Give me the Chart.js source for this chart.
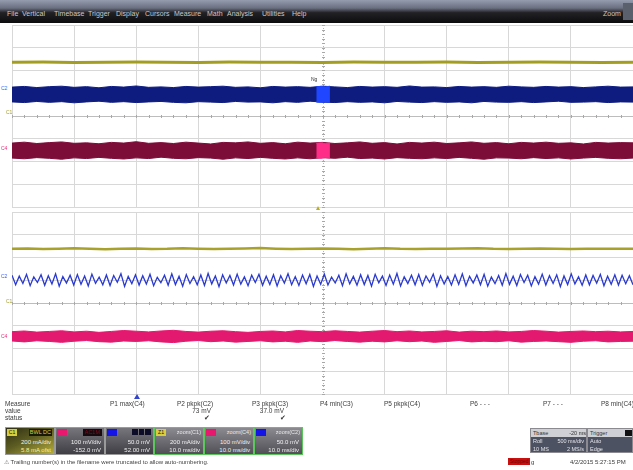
<!DOCTYPE html>
<html><head><meta charset="utf-8">
<script src="https://cdn.jsdelivr.net/npm/chart.js@4/dist/chart.umd.min.js"></script>
<style>
html,body{margin:0;padding:0;}
body{width:633px;height:470px;overflow:hidden;background:#fff;position:relative;font-family:"Liberation Sans",Arial,sans-serif;}
#menu{position:absolute;left:0;top:0;width:633px;height:23px;background:linear-gradient(to bottom,#959cae 0%,#6a7080 35%,#222226 55%,#0c0c0e 100%);}
#menu span{position:absolute;top:10px;font-size:7px;line-height:8px;color:#c8c8cc;white-space:nowrap;}
canvas{position:absolute;}
.t{position:absolute;white-space:nowrap;font-size:6.5px;line-height:7px;color:#3a3a3a;}
.mk{position:absolute;font-size:5px;line-height:5px;white-space:nowrap;}
.box{position:absolute;top:427px;height:28px;box-sizing:border-box;overflow:hidden;border:1px solid #9a9a9a;background:linear-gradient(to bottom,#76767c,#3e3e44);}
.box.z{border:1.5px solid #5cc85c;background:linear-gradient(to bottom,#8a8a90,#505056);}
.box .tag{position:absolute;left:1px;top:1px;width:10px;height:7px;font-size:5px;line-height:7px;text-align:center;color:#111;}
.box .lb{position:absolute;right:2px;top:1px;font-size:5.5px;line-height:7px;color:#e8e8e8;white-space:nowrap;}
.box .l2{position:absolute;right:3px;top:11px;font-size:6px;line-height:7px;color:#f0f0f0;white-space:nowrap;}
.box .l3{position:absolute;right:3px;top:19px;font-size:6px;line-height:7px;color:#f0f0f0;white-space:nowrap;}
.rb{position:absolute;box-sizing:border-box;overflow:hidden;}
.rb div{position:absolute;height:8px;font-size:5.5px;line-height:8px;white-space:nowrap;}
</style></head>
<body>
<div id="menu">
<span style="left:7px">File</span><span style="left:22px">Vertical</span><span style="left:54px">Timebase</span><span style="left:88px">Trigger</span><span style="left:116px">Display</span><span style="left:145px">Cursors</span><span style="left:174px">Measure</span><span style="left:207px">Math</span><span style="left:227px">Analysis</span><span style="left:262px">Utilities</span><span style="left:292px">Help</span>
<span style="left:603px">Zoom</span>
<div style="position:absolute;left:623px;top:3px;width:10px;height:17px;background:#5a606c;"></div>
</div>

<canvas id="upper" width="623" height="184" style="left:11px;top:24px"></canvas>
<canvas id="lower" width="623" height="184" style="left:11px;top:211px"></canvas>

<!-- channel offset markers -->
<div class="mk" style="left:1px;top:86px;color:#3a5cff">C2</div>
<div class="mk" style="left:6px;top:110px;color:#a8a030">C1</div>
<div class="mk" style="left:1px;top:146px;color:#e0307a">C4</div>
<div class="mk" style="left:1px;top:274px;color:#3a5cff">C2</div>
<div class="mk" style="left:6px;top:299px;color:#a8a030">C1</div>
<div class="mk" style="left:1px;top:334px;color:#e0307a">C4</div>
<div class="mk" style="left:311px;top:77px;color:#333;font-size:5px">Ng</div>
<!-- trigger markers -->
<div style="position:absolute;left:316px;top:206px;width:0;height:0;border-left:2.5px solid transparent;border-right:2.5px solid transparent;border-bottom:4px solid #b8b020;"></div>
<div style="position:absolute;left:134px;top:394px;width:0;height:0;border-left:3px solid transparent;border-right:3px solid transparent;border-bottom:5px solid #3344cc;"></div>

<!-- measure table -->
<div class="t" style="left:5px;top:400px">Measure</div>
<div class="t" style="left:5px;top:407px">value</div>
<div class="t" style="left:5px;top:414px">status</div>
<div class="t" style="left:110px;top:400px">P1 max(C4)</div>
<div class="t" style="left:177px;top:400px">P2 pkpk(C2)</div>
<div class="t" style="left:252px;top:400px">P3 pkpk(C3)</div>
<div class="t" style="left:320px;top:400px">P4 min(C3)</div>
<div class="t" style="left:384px;top:400px">P5 pkpk(C4)</div>
<div class="t" style="left:470px;top:400px">P6 - - -</div>
<div class="t" style="left:543px;top:400px">P7 - - -</div>
<div class="t" style="left:601px;top:400px">P8 min(C4)</div>
<div class="t" style="left:190px;top:407px;width:21px;text-align:right">73 mV</div>
<div class="t" style="left:258px;top:407px;width:26px;text-align:right">37.0 mV</div>
<div class="t" style="left:204px;top:414px;font-size:7px">✔</div>
<div class="t" style="left:280px;top:414px;font-size:7px">✔</div>

<!-- channel boxes -->
<div class="box" style="left:5px;width:50px;background:linear-gradient(155deg,#2e2e14 0%,#5c5c22 45%,#b6ae3c 100%);">
 <div class="tag" style="background:#d6ce3e">C1</div>
 <div class="lb" style="background:#1a1a0a;color:#d8d040;padding:0 1px">BWL DC</div>
 <div class="l2">200 mA/div</div><div class="l3" style="color:#f4f0a0">5.8 mA ofst</div>
</div>
<div class="box" style="left:55px;width:50px;">
 <div class="tag" style="background:#e8186e"></div>
 <div class="lb" style="background:#160a0e;color:#7a1020;padding:0 2px">AC1M</div>
 <div class="l2">100 mV/div</div><div class="l3">-152.0 mV</div>
</div>
<div class="box" style="left:105px;width:49px;">
 <div class="tag" style="background:#1414e6"></div>
 <div class="lb" style="color:#101030"><span style="background:#0c0c28;padding:0 2px;margin-left:1px">&nbsp;</span><span style="background:#0c0c28;padding:0 2px;margin-left:1px">&nbsp;</span><span style="background:#0c0c28;padding:0 2px;margin-left:1px">&nbsp;</span></div>
 <div class="l2">50.0 mV</div><div class="l3">52.00 mV</div>
</div>
<div class="box z" style="left:154px;width:50px;">
 <div class="tag" style="background:#d6ce3e">Z1</div>
 <div class="lb">zoom(C1)</div>
 <div class="l2">200 mA/div</div><div class="l3">10.0 ms/div</div>
</div>
<div class="box z" style="left:204px;width:50px;">
 <div class="tag" style="background:#e8186e"></div>
 <div class="lb">zoom(C4)</div>
 <div class="l2">100 mV/div</div><div class="l3">10.0 ms/div</div>
</div>
<div class="box z" style="left:254px;width:49px;">
 <div class="tag" style="background:#1414e6"></div>
 <div class="lb">zoom(C2)</div>
 <div class="l2">50.0 mV</div><div class="l3">10.0 ms/div</div>
</div>

<!-- timebase / trigger -->
<div class="rb" style="left:530px;top:428px;width:57px;height:25px;background:#4c5262;border:1px solid #8a8a90;">
 <div style="left:0;top:0;width:57px;background:#cfd0d4;color:#333;"><span style="margin-left:2px">Tbase</span><span style="position:absolute;right:2px">-20 ms</span></div>
 <div style="left:2px;top:8px;color:#e4e4e8">Roll</div><div style="right:2px;top:8px;color:#e4e4e8">500 ms/div</div>
 <div style="left:2px;top:16px;color:#e4e4e8">10 MS</div><div style="right:2px;top:16px;color:#e4e4e8">2 MS/s</div>
</div>
<div class="rb" style="left:587px;top:428px;width:46px;height:25px;background:#4c5262;border:1px solid #8a8a90;">
 <div style="left:0;top:0;width:46px;background:#cfd0d4;color:#333;"><span style="margin-left:2px">Trigger</span><span style="position:absolute;right:1px;top:1px;width:8px;height:6px;background:#111;"></span></div>
 <div style="left:2px;top:8px;color:#e4e4e8">Auto</div>
 <div style="left:2px;top:16px;color:#e4e4e8">Edge</div>
</div>
<div style="position:absolute;left:508px;top:458px;width:22px;height:7px;background:#c81010;font-size:5px;line-height:7px;color:#700;text-align:center">Stopped</div>
<div class="t" style="left:531px;top:459px;font-size:6px">g</div>
<div class="t" style="left:570px;top:459px;font-size:6px">4/2/2015 5:27:15 PM</div>
<div class="t" style="left:4px;top:459px;font-size:6px;color:#444"><span style="color:#777">⚠</span> Trailing number(s) in the filename were truncated to allow auto-numbering.</div>

<script>
// ---- data (vertical values in divisions) ----
const upperSpanDiv = 10;          // 10 horizontal divisions
const upperC1 = [2.36,2.37,2.35,2.36,2.37,2.36,2.35,2.37,2.36,2.36,2.35,2.37,2.36,2.36,2.37,2.35,2.36,2.37,2.36,2.35,2.36];
const upperC2Hi = [1.27,1.30,1.25,1.29,1.31,1.26,1.29,1.24,1.30,1.27,1.32,1.26,1.28,1.25,1.30,1.27,1.29,1.31,1.26,1.28,1.24,1.30,1.27,1.29,1.26,1.31,1.28,1.25,1.30,1.27,1.29,1.26,1.32,1.27,1.28,1.25,1.30,1.27,1.29,1.26,1.31,1.28,1.26,1.30,1.27,1.29,1.25,1.28,1.31,1.27,1.28];
const upperC2Lo = [0.62,0.59,0.64,0.60,0.63,0.58,0.62,0.65,0.60,0.63,0.59,0.62,0.64,0.60,0.58,0.63,0.61,0.59,0.64,0.61,0.62,0.58,0.63,0.60,0.65,0.61,0.59,0.63,0.60,0.62,0.58,0.64,0.61,0.59,0.63,0.60,0.62,0.58,0.64,0.61,0.60,0.63,0.59,0.62,0.65,0.60,0.61,0.63,0.59,0.62,0.61];
const upperC4Hi = [-1.19,-1.15,-1.21,-1.17,-1.14,-1.20,-1.18,-1.22,-1.16,-1.19,-1.13,-1.20,-1.17,-1.21,-1.15,-1.19,-1.23,-1.16,-1.18,-1.14,-1.20,-1.17,-1.22,-1.15,-1.19,-1.16,-1.21,-1.18,-1.14,-1.20,-1.17,-1.23,-1.16,-1.19,-1.15,-1.21,-1.18,-1.14,-1.20,-1.17,-1.22,-1.16,-1.19,-1.15,-1.20,-1.18,-1.23,-1.16,-1.19,-1.17,-1.18];
const upperC4Lo = [-1.85,-1.88,-1.83,-1.86,-1.90,-1.84,-1.87,-1.82,-1.86,-1.89,-1.84,-1.87,-1.81,-1.86,-1.88,-1.83,-1.85,-1.90,-1.84,-1.87,-1.82,-1.86,-1.89,-1.84,-1.88,-1.83,-1.86,-1.81,-1.87,-1.85,-1.89,-1.83,-1.86,-1.88,-1.84,-1.87,-1.82,-1.86,-1.90,-1.84,-1.85,-1.88,-1.83,-1.87,-1.84,-1.89,-1.85,-1.82,-1.86,-1.88,-1.85];
const zoomWindow = [4.9, 5.12];   // zoomed region (divisions) highlighted on the upper traces
const zoomC2Hi = [1.29,1.30,1.28,1.31];
const zoomC2Lo = [0.61,0.60,0.62,0.60];
const zoomC4Hi = [-1.20,-1.18,-1.21,-1.19];
const zoomC4Lo = [-1.84,-1.86,-1.83,-1.85];

const lowerC1 = [2.38,2.40,2.37,2.39,2.41,2.38,2.36,2.39,2.40,2.37,2.38,2.41,2.39,2.37,2.38,2.40,2.42,2.39,2.37,2.38,2.40,2.38,2.36,2.39,2.41,2.38,2.37,2.39,2.38,2.40,2.41,2.38,2.37,2.39,2.40,2.38,2.37,2.38,2.39,2.38,2.38];
const lowerC2 = [
1.22,0.80,1.18,0.86,1.26,0.76,1.15,0.90,1.24,0.78,1.20,0.84,1.28,0.74,1.16,0.88,1.22,0.79,1.25,0.82,
1.19,0.75,1.27,0.87,1.14,0.80,1.23,0.77,1.21,0.91,1.29,0.73,1.17,0.85,1.24,0.79,1.20,0.83,1.26,0.76,
1.13,0.89,1.22,0.78,1.28,0.81,1.18,0.74,1.25,0.86,1.16,0.80,1.23,0.77,1.30,0.84,1.19,0.72,1.24,0.88,
1.21,0.79,1.27,0.83,1.15,0.76,1.22,0.90,1.26,0.78,1.18,0.81,1.24,0.75,1.20,0.87,1.29,0.80,1.16,0.77,
1.23,0.85,1.25,0.73,1.19,0.82,1.27,0.79,1.14,0.88,1.22,0.76,1.28,0.84,1.17,0.78,1.24,0.81,1.21,0.74,
1.26,0.89,1.18,0.77,1.23,0.83,1.30,0.75,1.15,0.86,1.22,0.80,1.25,0.78,1.19,0.91,1.27,0.73,1.20,0.84,
1.16,0.79,1.24,0.82,1.28,0.76,1.17,0.88,1.23,0.80,1.26,0.74,1.14,0.85,1.21,0.78,1.29,0.82,1.18,0.77,
1.25,0.90,1.22,0.75,1.16,0.83,1.27,0.79,1.20,0.86,1.24,0.72,1.19,0.81,1.28,0.84,1.15,0.78,1.23,0.80,
1.21,0.87,1.26,0.76,1.18,0.82,1.24,0.79,1.22,0.85,1.20,0.80];
const lowerC4Hi = [-1.26,-1.23,-1.28,-1.25,-1.22,-1.27,-1.24,-1.29,-1.25,-1.21,-1.24,-1.27,-1.23,-1.20,-1.25,-1.28,-1.24,-1.22,-1.26,-1.29,-1.25,-1.23,-1.27,-1.21,-1.24,-1.26,-1.22,-1.25,-1.28,-1.24,-1.21,-1.26,-1.23,-1.27,-1.25,-1.22,-1.28,-1.24,-1.26,-1.23,-1.27,-1.25,-1.21,-1.24,-1.28,-1.25,-1.23,-1.26,-1.24,-1.27,-1.25];
const lowerC4Lo = [-1.67,-1.71,-1.66,-1.69,-1.73,-1.68,-1.65,-1.70,-1.72,-1.67,-1.69,-1.66,-1.71,-1.74,-1.68,-1.65,-1.70,-1.67,-1.72,-1.69,-1.66,-1.71,-1.68,-1.73,-1.67,-1.70,-1.65,-1.69,-1.72,-1.68,-1.71,-1.66,-1.70,-1.67,-1.73,-1.69,-1.65,-1.71,-1.68,-1.70,-1.66,-1.72,-1.69,-1.67,-1.70,-1.73,-1.68,-1.66,-1.71,-1.69,-1.68];

const centerTickStep = 0.2;   // sub-division ticks on the centre axes

// ---- helpers ----
function pts(arr, x0, x1) {
  const n = arr.length;
  return arr.map((v, i) => ({x: x0 + (x1 - x0) * i / (n - 1), y: v}));
}
function band(hi, lo, color, x0, x1, w) {
  return [
    {data: pts(hi, x0, x1), borderColor: color, borderWidth: w || 1, fill: false},
    {data: pts(lo, x0, x1), borderColor: color, borderWidth: w || 1, backgroundColor: color, fill: '-1'}
  ];
}
function line(arr, color, w) {
  return {data: pts(arr, 0, upperSpanDiv), borderColor: color, borderWidth: w, fill: false};
}

const crosshair = {
  id: 'crosshair',
  beforeDatasetsDraw(chart) {
    const {ctx, scales: {x, y}} = chart;
    const x0 = Math.round(x.getPixelForValue(5)) + 0.5;
    const y0 = Math.round(y.getPixelForValue(0)) + 0.5;
    ctx.save();
    ctx.strokeStyle = '#b4b4b4';
    ctx.lineWidth = 1;
    ctx.setLineDash([1, 2]);
    ctx.beginPath(); ctx.moveTo(x0, y.top); ctx.lineTo(x0, y.bottom); ctx.stroke();
    ctx.setLineDash([]);
    ctx.strokeStyle = '#a8a8a8';
    ctx.beginPath();
    for (let v = x.min; v <= x.max + 1e-9; v += centerTickStep) {
      const px = Math.round(x.getPixelForValue(v)) + 0.5;
      ctx.moveTo(px, y0 - 1.5); ctx.lineTo(px, y0 + 1.5);
    }
    for (let v = y.min; v <= y.max + 1e-9; v += centerTickStep) {
      const py = Math.round(y.getPixelForValue(v)) + 0.5;
      ctx.moveTo(x0 - 1.5, py); ctx.lineTo(x0 + 1.5, py);
    }
    ctx.stroke();
    ctx.restore();
  }
};

function makeGrid(id, datasets) {
  return new Chart(document.getElementById(id), {
    type: 'line',
    data: {datasets},
    plugins: [crosshair],
    options: {
      responsive: false, animation: false, devicePixelRatio: 1,
      layout: {padding: 1},
      plugins: {legend: {display: false}, tooltip: {enabled: false}},
      elements: {point: {radius: 0}, line: {tension: 0}},
      scales: {
        x: {type: 'linear', min: 0, max: upperSpanDiv,
            ticks: {display: false, stepSize: 1},
            grid: {drawTicks: false, color: c => c.tick && c.tick.value === 5 ? 'rgba(0,0,0,0)' : '#d8d8d8'},
            border: {display: false}},
        y: {type: 'linear', min: -4, max: 4,
            ticks: {display: false, stepSize: 1},
            grid: {drawTicks: false, color: c => c.tick && c.tick.value === 0 ? '#bdbdbd' : '#d8d8d8'},
            border: {display: false}}
      }
    }
  });
}

makeGrid('upper', [
  ...band(zoomC2Hi, zoomC2Lo, '#2046ff', zoomWindow[0], zoomWindow[1]),
  ...band(zoomC4Hi, zoomC4Lo, '#ff2c88', zoomWindow[0], zoomWindow[1]),
  line(upperC1, '#a39d22', 3),
  ...band(upperC2Hi, upperC2Lo, '#0e1c80', 0, upperSpanDiv),
  ...band(upperC4Hi, upperC4Lo, '#7c0c38', 0, upperSpanDiv)
]);

makeGrid('lower', [
  line(lowerC1, '#a8a22c', 2.5),
  line(lowerC2, '#2a3ad0', 1.3),
  ...band(lowerC4Hi, lowerC4Lo, '#e3186f', 0, upperSpanDiv)
]);
</script>
</body></html>
